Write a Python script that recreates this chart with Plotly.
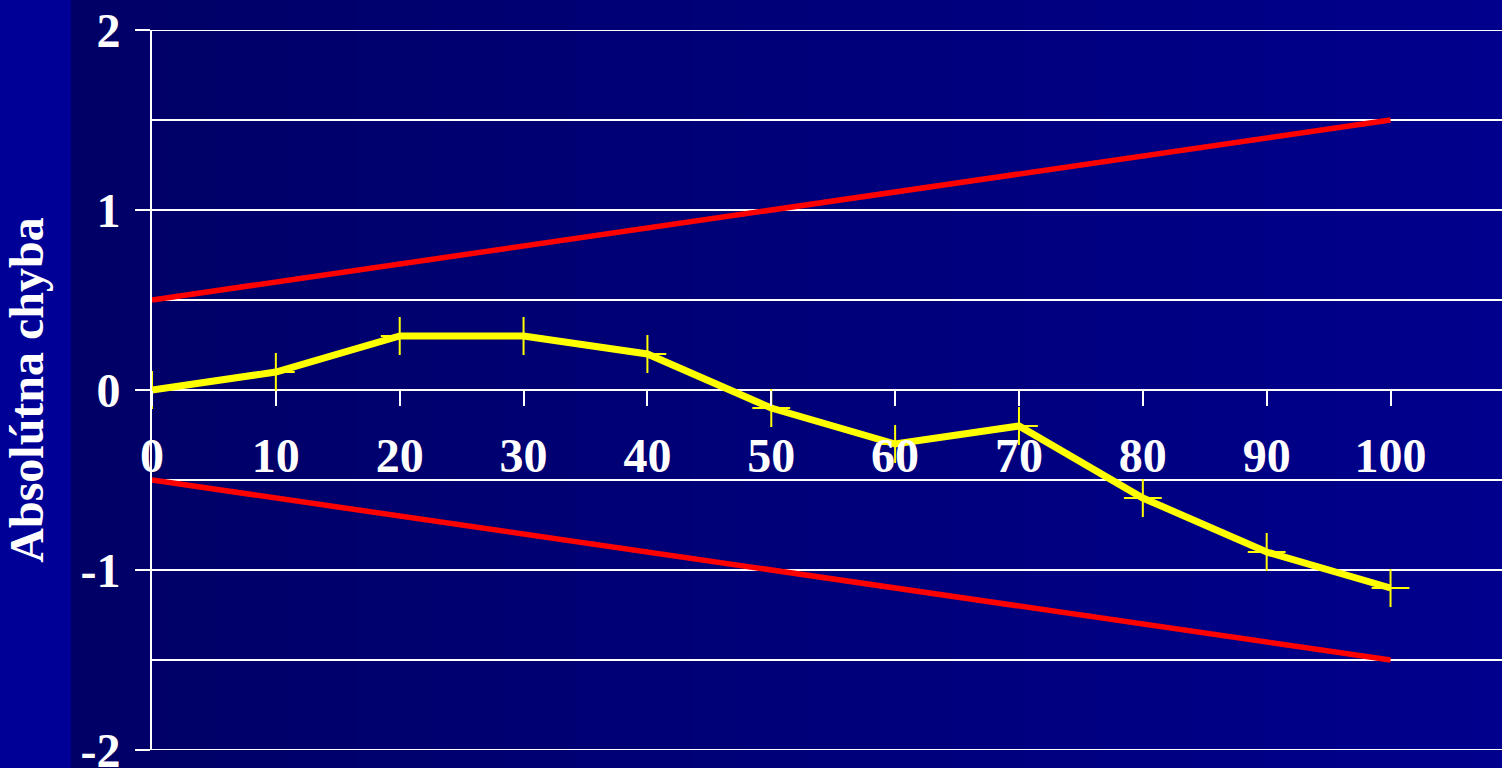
import plotly.graph_objects as go

# Measurement points and absolute error
x_vals = [0, 10, 20, 30, 40, 50, 60, 70, 80, 90, 100]
abs_error = [0, 0.1, 0.3, 0.3, 0.2, -0.1, -0.3, -0.2, -0.6, -0.9, -1.1]

# Tolerance band limits
limit_x = [0, 100]
upper_limit = [0.5, 1.5]
lower_limit = [-0.5, -1.5]

x_ticks = [0, 10, 20, 30, 40, 50, 60, 70, 80, 90, 100]
y_ticks = [-2, -1, 0, 1, 2]

W, H = 1502, 768
ML, MR, MT, MB = 152, 0, 30, 18
PW = W - ML - MR
PH = H - MT - MB

FONT = "Liberation Serif, Times New Roman, serif"


def px_to_paper_x(px):
    return (px - ML) / PW


fig = go.Figure()

fig.add_trace(go.Scatter(
    x=limit_x, y=upper_limit, mode="lines",
    line=dict(color="#ff0000", width=5.5), hoverinfo="skip", showlegend=False,
))
fig.add_trace(go.Scatter(
    x=limit_x, y=lower_limit, mode="lines",
    line=dict(color="#ff0000", width=5.5), hoverinfo="skip", showlegend=False,
))
fig.add_trace(go.Scatter(
    x=x_vals, y=abs_error, mode="lines+markers",
    line=dict(color="#ffff00", width=7),
    marker=dict(symbol="cross-thin", size=27, color="#ffff00",
                line=dict(color="#ffff00", width=2)),
    showlegend=False,
))

# Background: brighter left band, then a horizontal navy gradient
shapes = [dict(type="rect", xref="paper", yref="paper",
               x0=px_to_paper_x(0), x1=px_to_paper_x(71),
               y0=-0.2, y1=1.2, fillcolor="rgb(0,0,150)",
               line=dict(width=0), layer="below")]
n_strips = 60
start, end = 71, W
for i in range(n_strips):
    a = start + (end - start) * i / n_strips
    b = start + (end - start) * (i + 1) / n_strips + 1
    t = (i + 0.5) / n_strips
    blue = round(102 + (140 - 102) * t)
    shapes.append(dict(type="rect", xref="paper", yref="paper",
                       x0=px_to_paper_x(a), x1=px_to_paper_x(b),
                       y0=-0.2, y1=1.2, fillcolor=f"rgb(0,0,{blue})",
                       line=dict(width=0), layer="below"))

# Grid lines at the top and bottom of the value range
for yv in (y_ticks[0], y_ticks[-1]):
    shapes.append(dict(type="line", xref="paper", yref="y",
                       x0=0, x1=1, y0=yv, y1=yv,
                       line=dict(color="white", width=2)))

fig.update_layout(
    width=W, height=H,
    margin=dict(l=ML, r=MR, t=MT, b=MB, pad=0, autoexpand=False),
    paper_bgcolor="rgb(0,0,102)",
    plot_bgcolor="rgba(0,0,0,0)",
    shapes=shapes,
    font=dict(family=FONT, color="white"),
    xaxis=dict(
        range=[0, 109], anchor="free", position=0.5, automargin=False,
        tickvals=x_ticks, ticktext=[str(v) for v in x_ticks],
        ticks="outside", ticklen=15, tickwidth=2, tickcolor="white",
        showgrid=False, zeroline=False, showline=False,
        tickfont=dict(family=FONT, size=48, color="white", weight="bold"),
        ticklabelstandoff=8,
    ),
    yaxis=dict(
        range=[-2, 2], tickvals=y_ticks, ticktext=[str(v) for v in y_ticks],
        automargin=False,
        ticks="outside", ticklen=15, tickwidth=2, tickcolor="white",
        showline=True, linecolor="white", linewidth=2,
        showgrid=True, gridcolor="white", gridwidth=2,
        minor=dict(dtick=0.5, showgrid=True, gridcolor="white", gridwidth=2),
        zeroline=False,
        tickfont=dict(family=FONT, size=48, color="white", weight="bold"),
        ticklabelstandoff=5,
        ticklabeloverflow="allow",
        title=dict(text="Absolútna chyba", standoff=22,
                   font=dict(family=FONT, size=48, color="white", weight="bold")),
    ),
)

fig.write_html("out.html")
